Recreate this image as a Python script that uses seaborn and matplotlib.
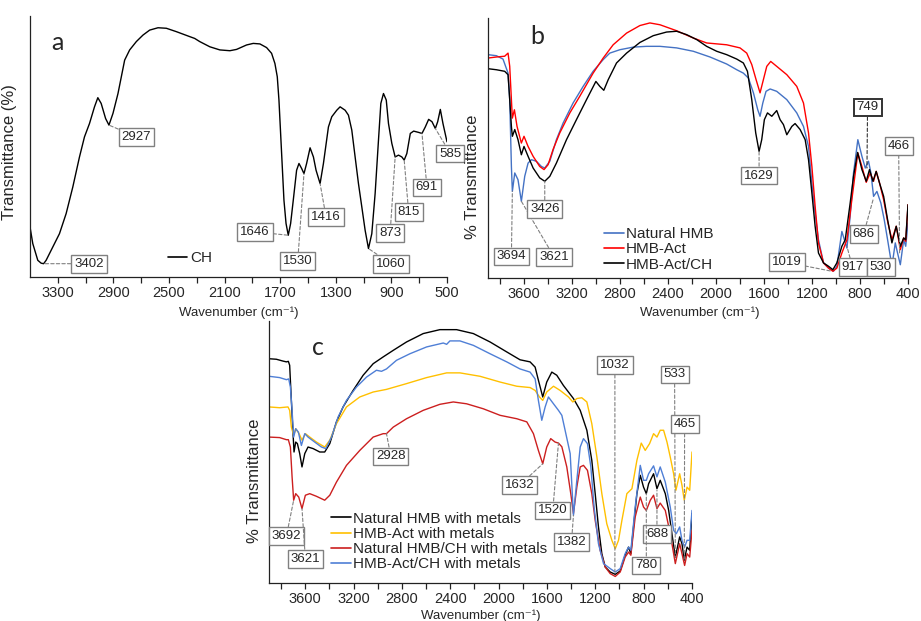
import numpy as np
import pandas as pd
import matplotlib
matplotlib.use("Agg")
import matplotlib.pyplot as plt
import seaborn as sns

# ---------------- data (wavenumber cm-1, transmittance a.u.) ----------------
a_ch_wn = [3500, 3480, 3444, 3420, 3402, 3384, 3336, 3288, 3240, 3192, 3144, 3108, 3072, 3036,
           3012, 2988, 2956, 2932, 2903, 2867, 2843, 2819, 2783, 2735, 2687, 2639, 2579, 2519,
           2447, 2351, 2315, 2279, 2206, 2134, 2062, 2014, 1942, 1894, 1846, 1798, 1762, 1738,
           1721, 1709, 1697, 1685, 1673, 1658, 1642, 1625, 1606, 1582, 1565, 1546, 1529, 1510,
           1485, 1461, 1442, 1413, 1389, 1353, 1329, 1293, 1269, 1233, 1209, 1185, 1161, 1137,
           1113, 1089, 1065, 1041, 1017, 993, 976, 957, 937, 921, 897, 873, 849, 825, 808, 789,
           764, 740, 704, 680, 656, 632, 608, 584, 567, 548, 529, 500]
a_ch_t = [19.2, 12.8, 6.4, 5.3, 5.1, 6.4, 11.5, 16.6, 24.3, 34.5, 46.0, 53.7, 58.8, 65.2,
          68.7, 66.5, 60.7, 58.2, 62.7, 70.3, 76.7, 83.1, 87.0, 90.2, 92.7, 94.6, 95.5, 95.3,
          94.0, 92.1, 91.4, 90.2, 88.2, 87.0, 86.7, 87.2, 88.9, 89.5, 89.3, 87.9, 85.7, 81.8,
          76.7, 67.8, 55.0, 42.2, 29.4, 20.5, 16.0, 20.5, 29.4, 40.9, 43.5, 41.6, 39.6, 43.5,
          49.5, 46.0, 40.9, 35.8, 43.5, 57.5, 61.4, 63.9, 65.2, 63.9, 62.0, 56.3, 46.0, 35.8,
          26.9, 17.9, 10.9, 16.6, 32.0, 52.4, 66.5, 70.3, 67.8, 58.8, 51.2, 46.0, 46.7, 46.0,
          44.8, 47.3, 55.0, 55.9, 55.4, 55.0, 57.5, 60.4, 59.5, 56.9, 59.5, 64.2, 58.8, 51.8]

b_nat_wn = [3900, 3830, 3775, 3733, 3719, 3705, 3697, 3677, 3650, 3622, 3594, 3566, 3538, 3497,
            3455, 3427, 3385, 3330, 3274, 3191, 3107, 3024, 2940, 2885, 2801, 2690, 2579, 2467,
            2328, 2189, 2050, 1911, 1827, 1772, 1730, 1688, 1652, 1633, 1610, 1583, 1549, 1494,
            1410, 1327, 1271, 1229, 1201, 1174, 1146, 1104, 1062, 1021, 993, 951, 909, 882, 854,
            818, 784, 756, 729, 709, 687, 659, 626, 598, 570, 534, 506, 487, 464, 436, 419, 400]
b_nat_t = [85.9, 85.5, 84.2, 78.8, 68.6, 42.9, 33.3, 40.4, 37.8, 29.5, 39.1, 44.2, 45.5, 44.9,
           42.9, 42.3, 44.9, 53.2, 59.6, 67.3, 73.7, 79.5, 84.0, 86.5, 87.8, 88.8, 89.1, 89.1,
           88.5, 87.2, 85.0, 82.3, 80.1, 78.8, 76.9, 71.2, 64.7, 62.2, 67.3, 71.8, 72.7, 71.8,
           68.6, 63.5, 58.3, 50.6, 36.5, 25.0, 14.7, 5.8, 3.8, 2.6, 4.5, 17.9, 11.5, 23.7, 40.4,
           53.2, 46.8, 42.3, 44.9, 40.4, 31.4, 33.3, 28.8, 22.4, 14.7, 4.5, 13.5, 9.6, 5.1, 14.7,
           12.2, 21.2]

b_act_wn = [3900, 3830, 3761, 3733, 3719, 3705, 3697, 3680, 3658, 3622, 3600, 3566, 3524, 3469,
            3433, 3399, 3358, 3302, 3218, 3135, 3024, 2940, 2857, 2745, 2634, 2551, 2467, 2328,
            2189, 2078, 1911, 1800, 1744, 1702, 1666, 1633, 1605, 1577, 1544, 1494, 1410, 1327,
            1271, 1229, 1201, 1174, 1146, 1104, 1062, 1026, 993, 951, 909, 868, 818, 784, 748,
            715, 687, 665, 637, 603, 570, 534, 498, 464, 436, 419, 400]
b_act_t = [84.6, 85.0, 85.3, 86.5, 81.4, 68.6, 61.5, 64.7, 58.3, 51.9, 54.5, 50.6, 46.8, 42.9,
           41.7, 43.6, 49.4, 55.8, 63.5, 69.9, 78.8, 84.6, 89.7, 94.2, 97.1, 98.1, 97.4, 95.1,
           92.3, 90.4, 89.7, 88.5, 86.5, 82.1, 76.3, 71.2, 76.3, 81.4, 83.3, 81.4, 78.2, 73.7,
           67.3, 55.8, 42.9, 27.6, 13.5, 5.8, 3.8, 2.6, 3.8, 9.6, 14.7, 30.1, 48.1, 42.9, 36.8,
           40.4, 37.2, 41.0, 36.5, 30.1, 21.8, 14.7, 19.9, 10.9, 15.4, 14.1, 28.2]

b_actch_wn = [3900, 3830, 3761, 3733, 3719, 3705, 3697, 3677, 3650, 3622, 3600, 3566, 3524, 3469,
              3427, 3385, 3330, 3246, 3163, 3079, 3001, 2968, 2935, 2898, 2829, 2745, 2634, 2523,
              2412, 2328, 2245, 2161, 2078, 1994, 1911, 1827, 1772, 1738, 1702, 1669, 1641, 1619,
              1597, 1571, 1535, 1494, 1466, 1438, 1410, 1368, 1341, 1299, 1257, 1229, 1201, 1174,
              1146, 1104, 1062, 1026, 993, 951, 923, 882, 854, 820, 784, 748, 721, 692, 665, 637,
              603, 570, 534, 498, 464, 436, 419, 400]
b_actch_t = [80.5, 80.1, 79.5, 78.2, 68.6, 58.3, 54.5, 57.1, 53.2, 47.4, 50.6, 46.8, 42.3, 38.5,
             37.2, 39.1, 44.2, 53.2, 60.9, 68.6, 75.6, 73.7, 72.2, 76.3, 82.7, 86.5, 90.6, 93.2,
             94.6, 94.9, 93.6, 91.7, 89.1, 87.2, 85.9, 84.2, 82.7, 79.5, 68.6, 55.8, 48.7, 53.2,
             60.9, 63.5, 62.2, 64.4, 60.9, 59.0, 55.1, 58.3, 59.4, 57.1, 53.2, 45.5, 32.7, 19.9,
             9.6, 5.8, 4.5, 3.2, 5.8, 12.2, 14.7, 28.8, 39.1, 48.3, 41.7, 37.2, 41.7, 37.2, 41.0,
             36.5, 31.4, 22.4, 13.5, 19.9, 12.2, 15.4, 14.7, 28.2]

c_nat_wn = [3900, 3839, 3784, 3756, 3740, 3729, 3715, 3701, 3693, 3679, 3665, 3646, 3627, 3604,
            3577, 3535, 3480, 3439, 3397, 3342, 3287, 3204, 3121, 3038, 2955, 2872, 2762, 2624,
            2486, 2348, 2209, 2071, 1933, 1823, 1740, 1698, 1671, 1635, 1602, 1560, 1519, 1464,
            1381, 1325, 1270, 1229, 1201, 1174, 1146, 1118, 1077, 1035, 994, 953, 925, 906, 884,
            856, 828, 801, 778, 759, 718, 690, 663, 621, 593, 566, 538, 502, 483, 464, 441, 419,
            400]
c_nat_t = [85.6, 85.4, 84.7, 84.4, 84.6, 83.1, 69.7, 57.0, 50.0, 53.8, 53.2, 49.4, 44.3, 49.4,
           51.9, 51.3, 50.0, 50.0, 53.2, 61.5, 67.2, 73.5, 79.3, 83.7, 86.3, 88.8, 92.0, 95.2,
           96.7, 96.7, 95.2, 92.0, 88.2, 85.2, 84.4, 82.4, 77.4, 71.0, 76.7, 80.5, 79.3, 75.4,
           70.4, 65.9, 58.3, 46.8, 34.1, 21.4, 11.2, 6.1, 4.2, 3.3, 4.6, 10.6, 13.7, 11.2, 21.4,
           34.1, 41.1, 36.6, 34.1, 37.9, 41.7, 36.0, 39.2, 34.1, 27.7, 18.8, 9.9, 17.6, 15.0, 8.7,
           13.7, 12.5, 26.5]

c_act_wn = [3900, 3812, 3743, 3729, 3715, 3696, 3679, 3651, 3627, 3599, 3563, 3508, 3439, 3397,
            3342, 3259, 3149, 3038, 2928, 2762, 2596, 2430, 2320, 2154, 1988, 1850, 1740, 1698,
            1662, 1635, 1602, 1546, 1491, 1422, 1386, 1353, 1312, 1270, 1229, 1187, 1146, 1105,
            1063, 1035, 1008, 980, 939, 897, 856, 820, 787, 751, 718, 690, 663, 635, 607, 580, 552,
            533, 502, 483, 464, 441, 419, 400]
c_act_t = [67.2, 66.9, 67.2, 65.9, 59.5, 56.4, 58.9, 57.0, 54.5, 57.0, 55.7, 53.8, 51.9, 54.5,
           60.8, 67.2, 71.0, 72.9, 73.9, 76.1, 78.4, 80.2, 80.2, 78.9, 76.7, 75.1, 74.6, 73.5,
           71.0, 69.7, 72.9, 75.1, 73.5, 71.0, 69.1, 70.4, 70.7, 69.1, 60.8, 48.1, 34.1, 22.6,
           16.3, 13.1, 16.3, 23.9, 34.1, 36.0, 46.8, 53.4, 50.6, 53.2, 57.0, 55.7, 58.3, 58.3,
           53.8, 48.1, 41.7, 35.4, 41.7, 37.3, 31.6, 36.6, 35.4, 50.0]

c_natch_wn = [3900, 3812, 3756, 3740, 3723, 3709, 3696, 3679, 3654, 3627, 3599, 3563, 3508, 3439,
              3397, 3342, 3259, 3149, 3038, 2955, 2928, 2872, 2762, 2624, 2486, 2375, 2265, 2127,
              1988, 1850, 1767, 1712, 1671, 1635, 1602, 1569, 1533, 1505, 1477, 1436, 1403, 1381,
              1353, 1325, 1298, 1265, 1229, 1201, 1160, 1118, 1077, 1035, 994, 953, 925, 906, 870,
              828, 801, 778, 745, 718, 690, 663, 621, 580, 538, 502, 483, 461, 441, 419, 400]
c_natch_t = [55.7, 55.5, 54.7, 54.7, 51.9, 40.5, 31.6, 34.1, 32.8, 28.4, 33.5, 34.1, 33.1, 31.6,
             33.5, 38.5, 44.9, 50.6, 55.7, 57.0, 57.0, 59.5, 62.7, 65.9, 68.2, 69.1, 68.4, 66.5,
             64.0, 62.7, 61.5, 57.0, 50.6, 45.5, 51.9, 55.1, 53.8, 53.4, 52.0, 44.3, 34.1, 26.5,
             36.6, 44.3, 44.9, 43.0, 34.1, 23.9, 12.5, 6.1, 3.6, 2.5, 4.2, 9.9, 11.8, 10.6, 25.2,
             32.8, 29.0, 27.7, 31.6, 33.5, 28.4, 30.5, 27.7, 18.8, 7.4, 15.0, 11.2, 6.7, 11.2, 9.9,
             20.1]

c_actch_wn = [3900, 3812, 3756, 3737, 3723, 3709, 3696, 3679, 3657, 3632, 3604, 3577, 3522, 3466,
              3430, 3383, 3328, 3259, 3176, 3093, 3011, 2969, 2928, 2845, 2734, 2596, 2458, 2430,
              2403, 2320, 2209, 2071, 1933, 1823, 1740, 1698, 1671, 1643, 1615, 1588, 1546, 1505,
              1477, 1450, 1408, 1381, 1353, 1325, 1298, 1265, 1237, 1210, 1174, 1132, 1077, 1035,
              994, 953, 925, 906, 870, 828, 801, 778, 759, 718, 690, 663, 621, 580, 552, 530, 502,
              483, 461, 441, 419, 400]
c_actch_t = [78.9, 78.4, 77.6, 77.9, 74.8, 65.9, 55.7, 58.9, 57.6, 52.5, 57.0, 55.7, 53.8, 51.9,
             51.3, 55.7, 63.4, 69.7, 74.8, 78.6, 81.2, 80.8, 81.7, 85.0, 87.5, 90.1, 91.6, 91.1,
             92.4, 92.4, 90.7, 87.5, 84.4, 81.7, 80.5, 77.9, 69.7, 62.1, 67.2, 71.0, 68.4, 65.9,
             64.0, 58.3, 49.4, 25.8, 39.2, 51.9, 55.1, 53.2, 44.3, 29.0, 15.0, 7.4, 5.5, 4.2, 5.5,
             11.2, 13.7, 12.5, 29.0, 44.9, 39.2, 39.2, 41.7, 44.7, 40.5, 44.3, 38.5, 29.0, 20.1,
             18.8, 21.4, 16.3, 13.7, 16.3, 16.3, 27.7]

a_ticks = [3300, 2900, 2500, 2100, 1700, 1300, 900, 500]
bc_ticks = [3600, 3200, 2800, 2400, 2000, 1600, 1200, 800, 400]

# ---------------- styling ----------------
sns.set_style("white")
plt.rcParams["font.family"] = ["Liberation Sans", "DejaVu Sans"]

GREY = "#808080"
ANN_FS = 9.5


def long_df(series):
    frames = []
    for name, wn, t in series:
        frames.append(pd.DataFrame({"wn": wn, "T": t, "sample": name}))
    return pd.concat(frames, ignore_index=True)


def style_axis(ax, xlim, major, minor):
    ax.set_xlim(*xlim)
    ax.set_ylim(0, 100)
    ax.set_yticks([])
    ax.set_xticks(major)
    ax.set_xticklabels([str(t) for t in major])
    ax.set_xticks(minor, minor=True)
    ax.tick_params(axis="x", which="both", direction="out", length=4, width=0.9,
                   color="#222222", labelsize=10.5, pad=2.5, bottom=True)
    for s in ["top", "right"]:
        ax.spines[s].set_visible(False)
    for s in ["left", "bottom"]:
        ax.spines[s].set_color("#222222")
        ax.spines[s].set_linewidth(0.9)
    ax.set_xlabel("Wavenumber (cm⁻¹)", fontsize=9.5, labelpad=1)
    ax.set_ylabel("")


def annotate(ax, items, color=GREY):
    for item in items:
        label, xy, xyt = item[0], item[1], item[2]
        ec = item[3] if len(item) > 3 else color
        lw = 1.4 if len(item) > 3 else 1.0
        box = dict(boxstyle="square,pad=0.22", fc="white", ec=ec, lw=lw)
        if xy is None:
            ax.text(xyt[0], xyt[1], label, fontsize=ANN_FS, ha="center", va="center", zorder=6,
                    bbox=box, clip_on=False)
            continue
        ax.annotate(label, xy=xy, xytext=xyt, fontsize=ANN_FS, ha="center", va="center",
                    zorder=6, annotation_clip=False, bbox=box,
                    arrowprops=dict(arrowstyle="-", linestyle=(0, (3, 2)), color=ec,
                                    lw=0.8, shrinkA=0, shrinkB=0))


def relegend(ax, anchor):
    leg = ax.get_legend()
    handles = leg.legend_handles
    labels = [t.get_text() for t in leg.get_texts()]
    leg.remove()
    for h in handles:
        h.set_linewidth(1.2)
    ax.legend(handles, labels, loc="center left", bbox_to_anchor=anchor, frameon=False,
              fontsize=11, handlelength=1.3, handletextpad=0.15, labelspacing=0.08,
              borderpad=0, borderaxespad=0)


fig = plt.figure(figsize=(9.21, 6.21), dpi=100)
W, H = 921, 621
ax_a = fig.add_axes([30 / W, 1 - 277 / H, 417 / W, 261 / H])
ax_b = fig.add_axes([488 / W, 1 - 278 / H, 420 / W, 260 / H])
ax_c = fig.add_axes([269 / W, 1 - 583 / H, 423 / W, 262 / H])

LETTER = dict(fontsize=18, ha="center", va="center", family=["Lato", "DejaVu Sans"])

# ---- panel a ----
df_a = long_df([("CH", a_ch_wn, a_ch_t)])
sns.lineplot(data=df_a, x="wn", y="T", hue="sample", palette={"CH": "black"},
             estimator=None, errorbar=None, lw=1.0, ax=ax_a)
style_axis(ax_a, (3500, 500), a_ticks, [3100, 2700, 2300, 1900, 1500, 1100, 700])
relegend(ax_a, (0.33, 0.073))
ax_a.text(0.065, 0.90, "a", transform=ax_a.transAxes, **LETTER)
ax_a.set_ylabel("Transmittance (%)", fontsize=12)
ax_a.yaxis.set_label_coords(-0.031, 0.48)
ax_a.xaxis.set_label_coords(0.50, -0.112)
annotate(ax_a, [
    ("3402", (3402, 5.1), (3076, 5.1)),
    ("2927", (2932, 58.2), (2735, 53.7)),
    ("1646", (1642, 16.0), (1882, 17.3)),
    ("1530", (1529, 39.6), (1574, 6.0)),
    ("1416", (1413, 35.8), (1370, 23.0)),
    ("1060", (1065, 10.9), (904, 5.1)),
    ("873", (873, 46.0), (909, 16.9)),
    ("815", (808, 44.8), (776, 24.9)),
    ("691", (680, 55.0), (644, 34.3)),
    ("585", (584, 56.9), (476, 47.3)),
])

# ---- panel b ----
names_b = ["Natural HMB", "HMB-Act", "HMB-Act/CH"]
df_b = long_df([(names_b[0], b_nat_wn, b_nat_t), (names_b[1], b_act_wn, b_act_t),
                (names_b[2], b_actch_wn, b_actch_t)])
sns.lineplot(data=df_b, x="wn", y="T", hue="sample", hue_order=names_b,
             palette={names_b[0]: "#4472C4", names_b[1]: "#FF0000", names_b[2]: "black"},
             estimator=None, errorbar=None, lw=1.0, ax=ax_b)
style_axis(ax_b, (3900, 400), bc_ticks, [3800, 3400, 3000, 2600, 2200, 1800, 1400, 1000, 600])
relegend(ax_b, (0.276, 0.11))
ax_b.text(0.117, 0.927, "b", transform=ax_b.transAxes, **LETTER)
ax_b.set_ylabel("% Transmittance", fontsize=12)
ax_b.yaxis.set_label_coords(-0.019, 0.39)
ax_b.xaxis.set_label_coords(0.505, -0.108)
annotate(ax_b, [
    ("3694", (3697, 33.3), (3705, 8.3)),
    ("3621", (3622, 29.5), (3349, 8.1)),
    ("3426", (3427, 37.2), (3427, 26.5)),
    ("1629", (1641, 48.7), (1641, 39.4)),
    ("1019", (1035, 2.6), (1410, 6.0)),
    ("917", (909, 12.2), (862, 4.1)),
    ("530", None, (626, 4.1)),
    ("686", (687, 30.8), (770, 16.9)),
    ("749", (742, 42.3), (737, 65.6), "#333333"),
    ("466", (470, 9.6), (478, 50.9)),
])

# ---- panel c ----
names_c = ["Natural HMB with metals", "HMB-Act with metals", "Natural HMB/CH with metals",
           "HMB-Act/CH with metals"]
df_c = long_df([(names_c[0], c_nat_wn, c_nat_t), (names_c[1], c_act_wn, c_act_t),
                (names_c[2], c_natch_wn, c_natch_t), (names_c[3], c_actch_wn, c_actch_t)])
sns.lineplot(data=df_c, x="wn", y="T", hue="sample", hue_order=names_c,
             palette={names_c[0]: "black", names_c[1]: "#FFC000", names_c[2]: "#CC1F1F",
                      names_c[3]: "#4F7FD6"},
             estimator=None, errorbar=None, lw=1.0, ax=ax_c)
style_axis(ax_c, (3900, 400), bc_ticks, [3800, 3400, 3000, 2600, 2200, 1800, 1400, 1000, 600])
relegend(ax_c, (0.147, 0.158))
ax_c.text(0.116, 0.897, "c", transform=ax_c.transAxes, **LETTER)
ax_c.set_ylabel("% Transmittance", fontsize=12)
ax_c.yaxis.set_label_coords(-0.017, 0.39)
ax_c.xaxis.set_label_coords(0.50, -0.103)
annotate(ax_c, [
    ("3692", (3696, 31.6), (3756, 17.9)),
    ("3621", (3627, 28.4), (3599, 9.3)),
    ("2928", (2928, 57.0), (2892, 48.3)),
    ("1632", (1635, 45.5), (1828, 37.3)),
    ("1520", (1505, 53.4), (1552, 27.7)),
    ("1382", (1381, 25.8), (1397, 15.6)),
    ("1032", (1038, 4.2), (1038, 83.1)),
    ("533", (538, 9.9), (544, 79.6)),
    ("465", (464, 8.7), (461, 60.6)),
    ("688", (690, 35.4), (690, 18.8)),
    ("780", (778, 34.1), (778, 6.7)),
])

fig.savefig("out.png", dpi=100)
